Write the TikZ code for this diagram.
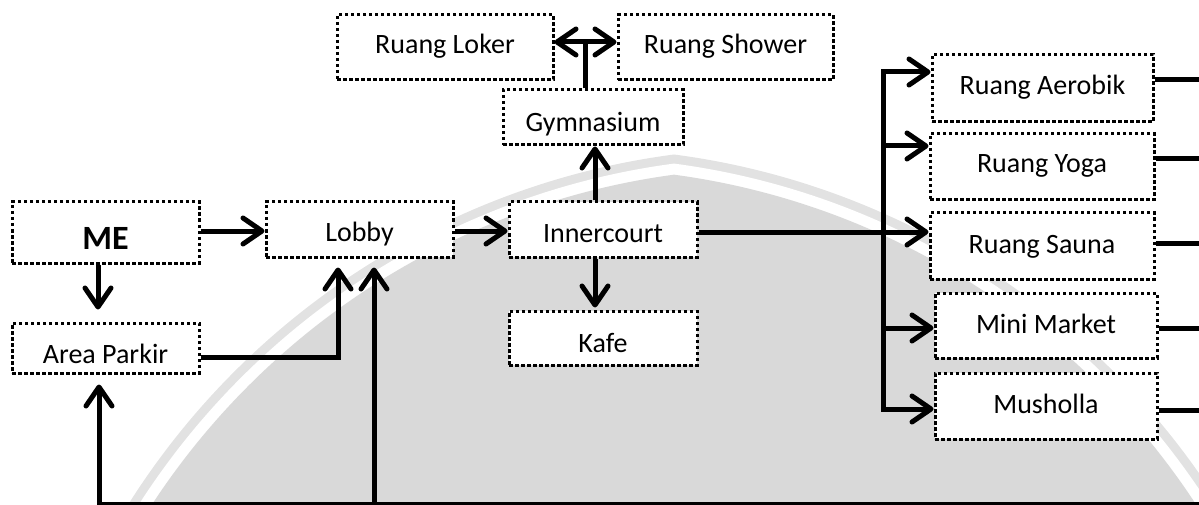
\documentclass[tikz,border=0pt]{standalone}
\usepackage{fontspec}
\setmainfont{Carlito}
\usetikzlibrary{arrows.meta}

\definecolor{wmgray}{HTML}{D9D9D9}
\definecolor{wmlight}{HTML}{E2E2E2}

\tikzset{
  room/.style 2 args={draw=black, fill=white, line width=3pt,
    dash pattern=on 3.5pt off 2.5pt, rectangle, inner sep=0pt,
    minimum width=#1pt, minimum height=#2pt, text depth=7pt,
    font=\fontsize{28pt}{32pt}\selectfont},
  conn/.style={draw=black, line width=5pt},
  >={Straight Barb[length=19pt,width=26pt,round]}
}

\begin{document}
\begin{tikzpicture}[x=1pt, y=-1pt]
\useasboundingbox (0,0) rectangle (1199,505);

% background emblem: a pointed arch made of two overlapping discs
\begin{scope}
  \clip (0,0) rectangle (1199,505);
  \begin{scope}
    \clip (774,911) circle (763);
    \fill[wmlight] (574,911) circle (763);
  \end{scope}
  \begin{scope}
    \clip (774,911) circle (754);
    \fill[white] (574,911) circle (754);
  \end{scope}
  \begin{scope}
    \clip (774,911) circle (743);
    \fill[wmgray] (574,911) circle (743);
  \end{scope}
\end{scope}

% rooms
\node[room={187}{61}, text height=40pt, font=\fontsize{34pt}{38pt}\selectfont\bfseries] (me) at (105.5,232.5) {ME};
\node[room={187}{50}, text height=37pt] (parkir) at (105.5,348) {Area Parkir};
\node[room={187}{55}, text height=31pt] (lobby)  at (359.5,229.5) {Lobby};
\node[room={188}{55}, text height=32pt] (inner)  at (603,229.5) {Innercourt};
\node[room={188}{54}, text height=35pt] (kafe)   at (603,338) {Kafe};
\node[room={180}{55}, text height=35pt] (gym)    at (593,117.5) {Gymnasium};
\node[room={216}{65}, text height=20pt] (loker)  at (445,47.5) {Ruang Loker};
\node[room={215}{65}, text height=20pt] (shower) at (725.5,47.5) {Ruang Shower};
\node[room={221}{67}, text height=20pt] (aer)    at (1042.5,88.5) {Ruang Aerobik};
\node[room={224}{66}, text height=19pt] (yoga)   at (1042,167) {Ruang Yoga};
\node[room={224}{66}, text height=21pt] (sauna)  at (1042,246) {Ruang Sauna};
\node[room={222}{65}, text height=22pt] (mini)   at (1046,325.5) {Mini Market};
\node[room={222}{66}, text height=21pt] (mush)   at (1046,406) {Musholla};

% routing coordinates
\coordinate (row)  at (0,231);
\coordinate (px)   at (98,0);
\coordinate (pk)   at (338,357);
\coordinate (ix)   at (595,0);
\coordinate (tj)   at (585,42);
\coordinate (b1)   at (99,504);
\coordinate (b2)   at (374,504);
\coordinate (b3)   at (1199,504);
\coordinate (bus)  at (883,0);
\coordinate (ya)   at (0,72);
\coordinate (yy)   at (0,146);
\coordinate (ys)   at (0,232);
\coordinate (ymm)  at (0,328);
\coordinate (ym)   at (0,409);
\coordinate (e1)   at (1199,80);
\coordinate (e2)   at (1199,159);
\coordinate (e3)   at (1199,243);
\coordinate (e4)   at (1199,328);
\coordinate (e5)   at (1199,410);

% entrance and lobby
\draw[conn,->] (me.east |- row) -- (lobby.west |- row);
\draw[conn,->] (lobby.east |- row) -- (inner.west |- row);
\draw[conn,->,shorten >=12pt] (px |- me.south) -- (px |- parkir.north);
\draw[conn,->,shorten >=9pt] (parkir.east |- pk) -- (pk) -- (pk |- lobby.south);

% lower loop
\draw[conn,<-,shorten <=10pt] (b1 |- parkir.south) -- (b1) -- (b3);
\draw[conn,->,shorten >=9pt] (b2) -- (b2 |- lobby.south);

% innercourt
\draw[conn,->] (ix |- inner.north) -- (ix |- gym.south);
\draw[conn,->,shorten >=2pt] (ix |- inner.south) -- (ix |- kafe.north);
\draw[conn] (tj |- gym.north) -- (tj);
\draw[conn,<->] (loker.east |- tj) -- (shower.west |- tj);

% activity rooms
\draw[conn,->] (inner.east |- ys) -- (sauna.west |- ys);
\draw[conn,<->] (aer.west |- ya) -- (bus |- ya) -- (bus |- ym) -- (mush.west |- ym);
\draw[conn,->] (bus |- yy) -- (yoga.west |- yy);
\draw[conn,->] (bus |- ymm) -- (mini.west |- ymm);

% exits to the right
\draw[conn] (aer.east |- e1) -- (e1);
\draw[conn] (yoga.east |- e2) -- (e2);
\draw[conn] (sauna.east |- e3) -- (e3);
\draw[conn] (mini.east |- e4) -- (e4);
\draw[conn] (mush.east |- e5) -- (e5);
\end{tikzpicture}
\end{document}
